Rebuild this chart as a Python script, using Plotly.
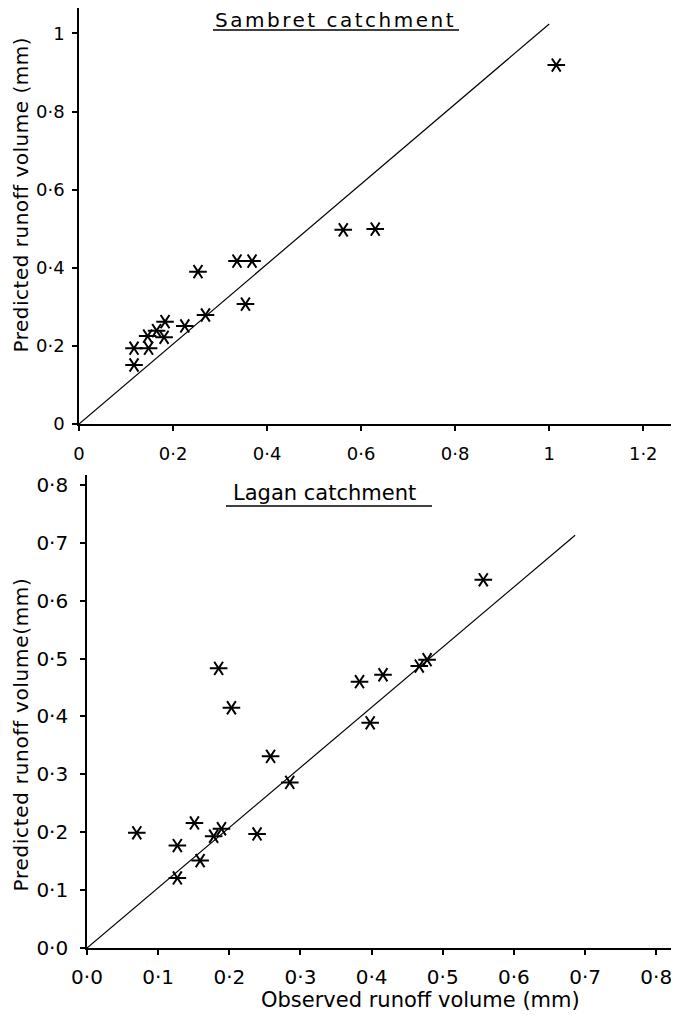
import plotly.graph_objects as go

# the page body adds an 8px margin; the figure is sized to fit inside the window
OFF = 8
W, H = 679 - OFF, 1015 - OFF

# ---- Data: Sambret catchment (top) ----
sambret_observed = [0.117, 0.117, 0.148, 0.146, 0.165, 0.181, 0.183, 0.225, 0.269,
                    0.253, 0.336, 0.368, 0.354, 0.562, 0.630, 1.015]
sambret_predicted = [0.151, 0.194, 0.194, 0.225, 0.239, 0.222, 0.262, 0.251, 0.279,
                     0.390, 0.417, 0.417, 0.307, 0.497, 0.499, 0.919]
sambret_line_x = [0.0, 1.0]
sambret_line_y = [0.0, 1.024]

# ---- Data: Lagan catchment (bottom) ----
lagan_observed = [0.070, 0.127, 0.127, 0.151, 0.159, 0.178, 0.189, 0.239, 0.258,
                  0.285, 0.185, 0.203, 0.383, 0.398, 0.416, 0.467, 0.478, 0.557]
lagan_predicted = [0.199, 0.177, 0.121, 0.216, 0.151, 0.193, 0.206, 0.197, 0.331,
                   0.286, 0.483, 0.415, 0.460, 0.389, 0.472, 0.487, 0.498, 0.636]
lagan_line_x = [0.0, 0.686]
lagan_line_y = [0.0, 0.713]

# ---- Tick labels ----
top_x_ticks = [0, 0.2, 0.4, 0.6, 0.8, 1.0, 1.2]
top_x_labels = ["0", "0·2", "0·4", "0·6", "0·8", "1", "1·2"]
top_y_ticks = [0, 0.2, 0.4, 0.6, 0.8, 1.0]
top_y_labels = ["0", "0·2", "0·4", "0·6", "0·8", "1"]
bot_x_ticks = [0, 0.1, 0.2, 0.3, 0.4, 0.5, 0.6, 0.7, 0.8]
bot_x_labels = ["0·0", "0·1", "0·2", "0·3", "0·4", "0·5", "0·6", "0·7", "0·8"]
bot_y_ticks = [0, 0.1, 0.2, 0.3, 0.4, 0.5, 0.6, 0.7, 0.8]
bot_y_labels = ["0·0", "0·1", "0·2", "0·3", "0·4", "0·5", "0·6", "0·7", "0·8"]

FONT = "DejaVu Sans"

def fx(p):
    return min(1.0, max(0.0, (p - OFF) / W))

def fy(p):
    return min(1.0, max(0.0, 1 - (p - OFF) / H))

def spaced(text, px):
    return '<span style="letter-spacing:%spx">%s</span>' % (px, text)

fig = go.Figure()

def add_stars(xs, ys, xa, ya):
    for sym in ["y-left-open", "y-right-open"]:
        fig.add_trace(go.Scatter(
            x=xs, y=ys, mode="markers", xaxis=xa, yaxis=ya,
            marker=dict(symbol=sym, size=11, color="black",
                        line=dict(color="black", width=2)),
            showlegend=False, cliponaxis=False))

def add_line(xs, ys, xa, ya):
    fig.add_trace(go.Scatter(
        x=xs, y=ys, mode="lines", xaxis=xa, yaxis=ya,
        line=dict(color="black", width=1.2), showlegend=False, cliponaxis=False))

add_line(sambret_line_x, sambret_line_y, "x", "y")
add_stars(sambret_observed, sambret_predicted, "x", "y")
add_line(lagan_line_x, lagan_line_y, "x2", "y2")
add_stars(lagan_observed, lagan_predicted, "x2", "y2")

axis_common = dict(showline=True, linecolor="black", linewidth=1.6,
                   ticks="outside", ticklen=5, tickwidth=1.5, tickcolor="black",
                   showgrid=False, zeroline=False, mirror=False, automargin=False)

top_font = dict(family=FONT, size=18, color="black")
bot_font = dict(family=FONT, size=20, color="black")

fig.update_layout(
    width=W, height=H,
    margin=dict(l=0, r=0, t=0, b=0, pad=0, autoexpand=False),
    paper_bgcolor="white", plot_bgcolor="white",
    font=dict(family=FONT, color="black"),
    xaxis=dict(domain=[fx(79), fx(679)], range=[0, 1.276], anchor="y",
               tickmode="array", tickvals=top_x_ticks, ticktext=top_x_labels,
               ticklabelstandoff=8, tickfont=top_font, **axis_common),
    yaxis=dict(domain=[fy(424), fy(8)], range=[0, 1.065], anchor="x",
               tickmode="array", tickvals=top_y_ticks, ticktext=top_y_labels,
               ticklabelstandoff=4, tickfont=top_font, **axis_common),
    xaxis2=dict(domain=[fx(87), fx(679)], range=[0, 0.832], anchor="y2",
                tickmode="array", tickvals=bot_x_ticks, ticktext=bot_x_labels,
                ticklabelstandoff=5, tickfont=bot_font, **axis_common),
    yaxis2=dict(domain=[fy(948), fy(475)], range=[0, 0.817], anchor="x2",
                tickmode="array", tickvals=bot_y_ticks, ticktext=bot_y_labels,
                ticklabelstandoff=8, tickfont=bot_font, **axis_common),
)

annotations = [
    dict(text=spaced("Sambret catchment", 2.5), x=fx(213), y=fy(20), xref="paper", yref="paper",
         xanchor="left", yanchor="middle", showarrow=False,
         font=dict(family=FONT, size=20, color="black")),
    dict(text="Lagan catchment", x=fx(231), y=fy(493), xref="paper", yref="paper",
         xanchor="left", yanchor="middle", showarrow=False,
         font=dict(family=FONT, size=21, color="black")),
    dict(text=spaced("Predicted runoff volume (mm)", 0.5), x=fx(20.5), y=fy(195),
         xref="paper", yref="paper",
         xanchor="center", yanchor="middle", textangle=-90, showarrow=False,
         font=dict(family=FONT, size=20, color="black")),
    dict(text=spaced("Predicted runoff volume(mm)", 0.7), x=fx(20.5), y=fy(735),
         xref="paper", yref="paper",
         xanchor="center", yanchor="middle", textangle=-90, showarrow=False,
         font=dict(family=FONT, size=20, color="black")),
    dict(text="Observed runoff volume (mm)", x=fx(421), y=fy(1000), xref="paper", yref="paper",
         xanchor="center", yanchor="middle", showarrow=False,
         font=dict(family=FONT, size=21, color="black")),
]
fig.update_layout(annotations=annotations)

fig.update_layout(shapes=[
    dict(type="line", xref="paper", yref="paper", x0=fx(213), x1=fx(459),
         y0=fy(30), y1=fy(30), line=dict(color="black", width=1.5)),
    dict(type="line", xref="paper", yref="paper", x0=fx(226), x1=fx(432),
         y0=fy(506), y1=fy(506), line=dict(color="black", width=1.5)),
])

fig.write_html("out.html")
